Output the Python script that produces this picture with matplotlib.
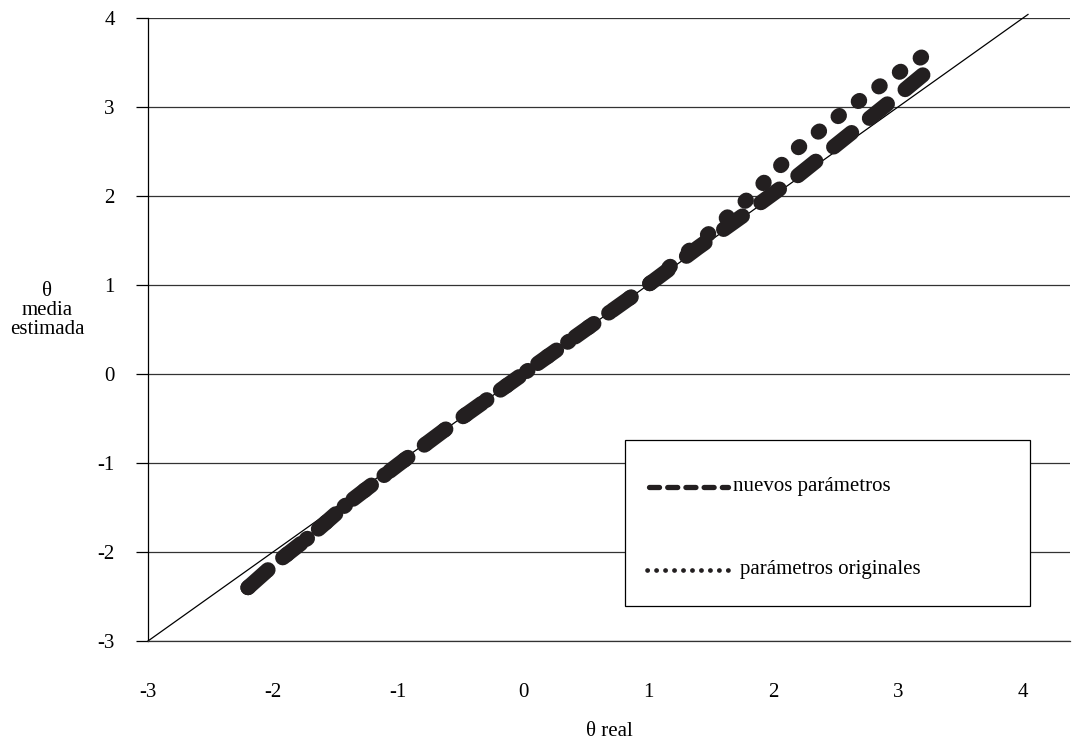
import matplotlib
matplotlib.use("Agg")
import matplotlib.pyplot as plt
from matplotlib.patches import Rectangle
from matplotlib.lines import Line2D

plt.rcParams['font.family'] = ['Liberation Serif', 'DejaVu Serif']
plt.rcParams['axes.unicode_minus'] = False

# theta real vs theta media estimada
theta_real = [-2.2, -2.0, -1.7, -1.4, -1.0, -0.6, -0.2, 0.2, 0.6, 1.0, 1.4, 1.8, 2.2, 2.6, 3.0, 3.25]
nuevos = [-2.4, -2.15, -1.82, -1.45, -1.02, -0.6, -0.2, 0.2, 0.6, 1.0, 1.42, 1.82, 2.23, 2.68, 3.13, 3.42]
originales = [-2.4, -2.15, -1.82, -1.45, -1.02, -0.6, -0.2, 0.2, 0.6, 1.0, 1.47, 1.97, 2.54, 2.98, 3.38, 3.62]
diag = [-3, 4.04]

yticks = [-3, -2, -1, 0, 1, 2, 3, 4]
xticks = [-3, -2, -1, 0, 1, 2, 3, 4]

fig = plt.figure(figsize=(10.86, 7.42), dpi=100)
ax = fig.add_axes([148/1086, 1-641/742, 922/1086, 623/742])

ax.plot(diag, diag, color='black', lw=0.9, zorder=2, clip_on=False)
ax.plot(theta_real, originales, color='#231f20', lw=11,
        linestyle=(0, (0.1, 1.55)), dash_capstyle='round', zorder=3)
ax.plot(theta_real, nuevos, color='#231f20', lw=11,
        linestyle=(0, (1.5, 1.5)), dash_capstyle='round', zorder=4)

ax.set_xlim(-3, 4.376)
ax.set_ylim(-3, 4)
ax.set_xticks(xticks)
ax.set_yticks(yticks)
ax.set_xticklabels([str(t) for t in xticks])
ax.set_yticklabels([str(t) for t in yticks])
ax.tick_params(axis='x', length=0, pad=30, labelsize=15)
ax.tick_params(axis='y', direction='out', length=9, width=0.9, pad=15, labelsize=15)

ax.grid(axis='y', color='#333333', lw=0.9)
ax.set_axisbelow(True)
for s in ['top', 'right']:
    ax.spines[s].set_visible(False)
ax.spines['bottom'].set_color('#333333')
ax.spines['bottom'].set_linewidth(0.9)
ax.spines['left'].set_linewidth(0.9)

ax.set_xlabel('θ real', fontsize=15, labelpad=15)
fig.text(47/1086, 1-310/742, 'θ\nmedia\nestimada', ha='center', va='center',
         fontsize=15, linespacing=1.0)

# legend box
ax.add_patch(Rectangle((0.5174, 0.0562), 0.4392, 0.2664, transform=ax.transAxes,
                       facecolor='white', edgecolor='black', lw=0.9, zorder=5))
ax.add_line(Line2D([0.543, 0.629], [0.2472, 0.2472], transform=ax.transAxes,
                   color='#231f20', lw=3.8, linestyle=(0, (1.9, 1.55)),
                   dash_capstyle='round', zorder=6))
ax.add_line(Line2D([0.541, 0.634], [0.114, 0.114], transform=ax.transAxes,
                   color='#231f20', lw=3.4, linestyle=(0, (0.05, 1.85)),
                   dash_capstyle='round', zorder=6))
ax.text(0.6345, 0.2472, 'nuevos parámetros', transform=ax.transAxes,
        ha='left', va='center', fontsize=15, zorder=7)
ax.text(0.642, 0.114, 'parámetros originales', transform=ax.transAxes,
        ha='left', va='center', fontsize=15, zorder=7)

fig.savefig('out.png', dpi=100)
